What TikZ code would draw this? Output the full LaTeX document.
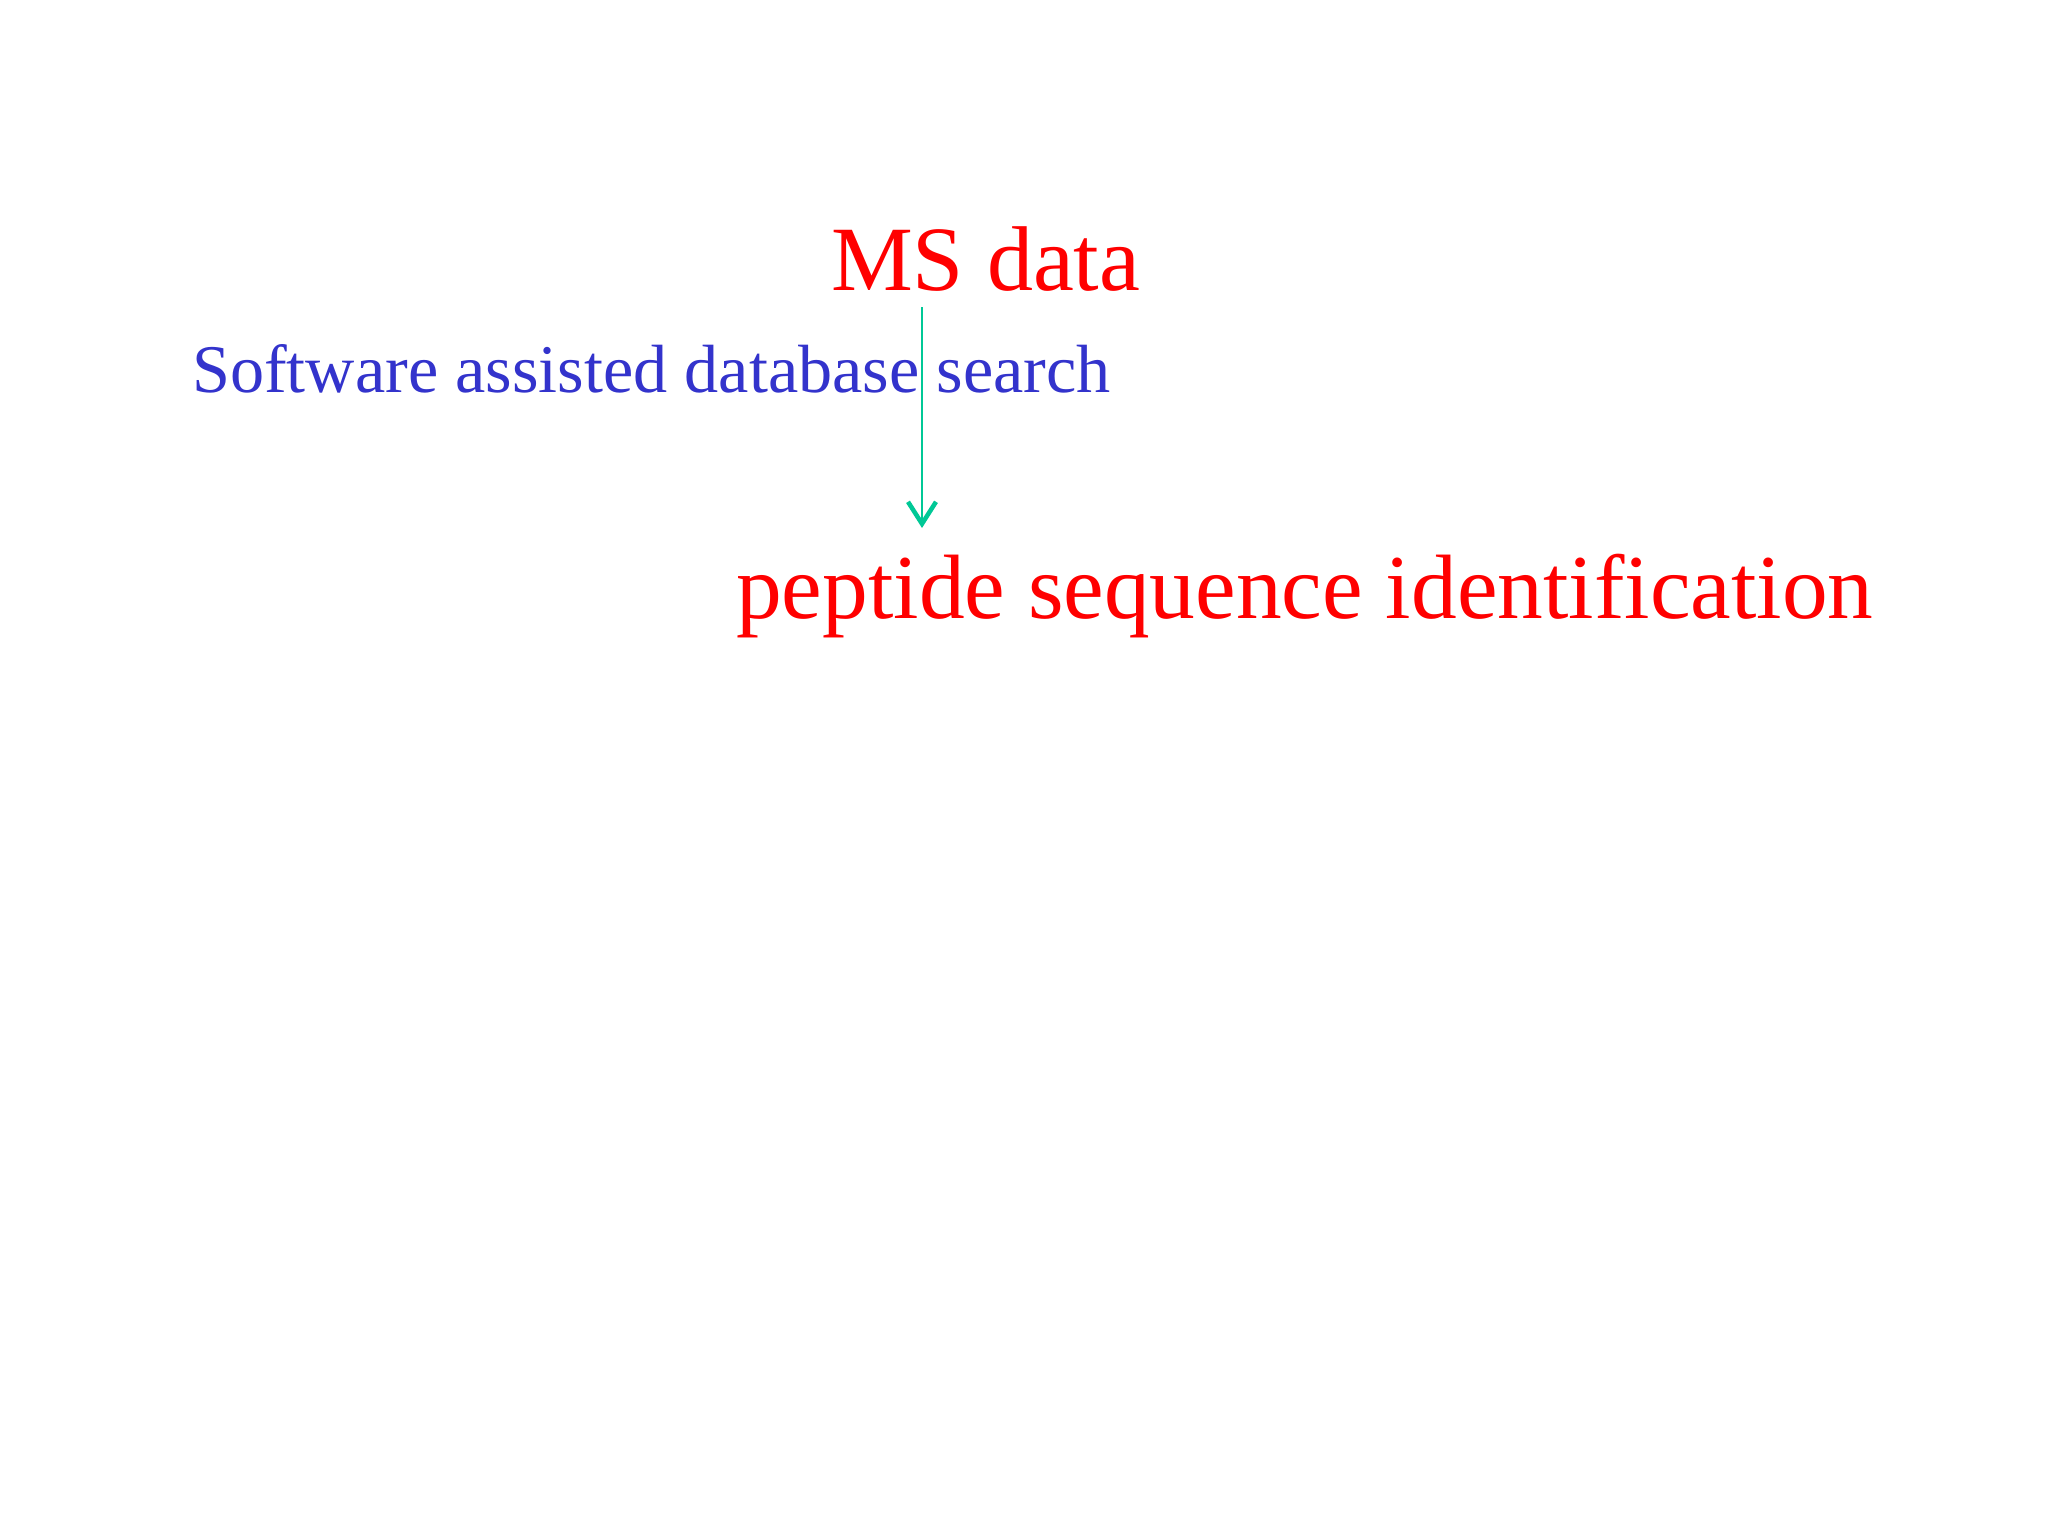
\documentclass[tikz,border=0pt]{standalone}
\usepackage{fontspec}
\setmainfont{Liberation Serif}
\usetikzlibrary{arrows.meta}
\definecolor{msred}{HTML}{FF0000}
\definecolor{swblue}{HTML}{3333CC}
\definecolor{arrgreen}{HTML}{00C896}
\tikzset{
  big/.style={inner sep=0pt, anchor=base west, text=msred, font=\fontsize{92}{110}\selectfont},
  mid/.style={inner sep=0pt, anchor=base west, text=swblue, font=\fontsize{68.2}{80}\selectfont},
  flow/.style={draw=arrgreen, line width=2.5pt, -{Straight Barb[length=22pt,width=28pt,line width=4.5pt]}}
}
\begin{document}
\begin{tikzpicture}[x=1pt,y=-1pt]
\useasboundingbox (0,0) rectangle (2048,1536);
\fill[white] (0,0) rectangle (2048,1536);
\node[big] (ms) at (831,290) {MS data};
\node[mid] (sw) at (192,392) {Software assisted database search};
\node[big, font=\fontsize{91.4}{110}\selectfont] (pep) at (736,618) {peptide sequence identification};
\coordinate (a) at (922,307);
\coordinate (b) at (922,528);
\draw[flow] (a) -- (b);
\end{tikzpicture}
\end{document}
